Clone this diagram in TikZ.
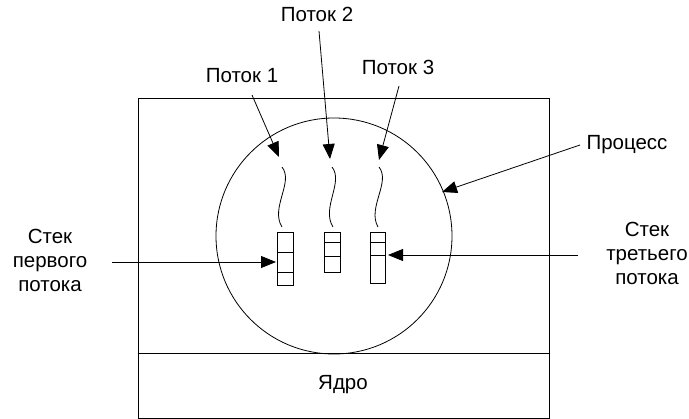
\documentclass[tikz,border=0pt]{standalone}
\usepackage{fontspec}
\setmainfont{Liberation Sans}
\usetikzlibrary{arrows.meta}
\begin{document}
\begin{tikzpicture}[x=1pt,y=-1pt,
  lbl/.style={font=\fontsize{20.5}{24}\selectfont, align=center, inner sep=1pt},
  arr/.style={line width=0.8pt, -{Triangle[length=15pt,width=12pt]}},
  thr/.style={line width=0.8pt},
  stk/.style={draw, line width=1pt},
  box/.style={draw, line width=0.8pt}]
\useasboundingbox (0,0) rectangle (689,419);
% outer process box
\draw[box] (138,98) rectangle (549,418.5);
\draw[box] (138,353) -- (549,353);
\node[lbl] (kernel) at (343,385) {Ядро};
% process circle
\node[draw, circle, line width=0.8pt, minimum size=236pt, inner sep=0pt] (proc) at (334,236) {};
% stacks
\draw[stk] (277,233) rectangle (293,286);
\draw[stk] (277,253) -- (293,253) (277,273) -- (293,273);
\draw[stk] (324,233) rectangle (340.5,272.5);
\draw[stk] (324,242.5) -- (340.5,242.5) (324,257) -- (340.5,257);
\draw[stk] (370,233) rectangle (385.5,283.5);
\draw[stk] (370,242.5) -- (385.5,242.5) (370,256) -- (385.5,256);
\coordinate (s1) at (276,262);
\coordinate (s3) at (388,255);
% threads
\coordinate (t1) at (279,157);
\coordinate (t2) at (330,159);
\coordinate (t3) at (379,160);
\draw[thr] (282,167) .. controls (294,182) and (270,208) .. (282,227);
\draw[thr] (332,167) .. controls (344,182) and (321,208) .. (333,227);
\draw[thr] (379,167) .. controls (391,182) and (367,208) .. (378,227);
% labels
\node[lbl] (p1) at (242,76) {Поток 1};
\node[lbl] (p2) at (317,14) {Поток 2};
\node[lbl] (p3) at (398,67) {Поток 3};
\node[lbl] (pr) at (627,145) {Процесс};
\node[lbl] (st1) at (50,260) {Стек\\первого\\потока};
\node[lbl] (st3) at (647,253) {Стек\\третьего\\потока};
\coordinate (prc) at (442,192);
% arrow tails
\coordinate (a1) at (252,95);
\coordinate (a2) at (319,31);
\coordinate (a3) at (399,86);
\coordinate (a4) at (580,145);
\coordinate (a5) at (112,262);
\coordinate (a6) at (578,255);
% arrows
\draw[arr] (a1) -- (t1);
\draw[arr] (a2) -- (t2);
\draw[arr] (a3) -- (t3);
\draw[arr] (a4) -- (prc);
\draw[arr] (a5) -- (s1);
\draw[arr] (a6) -- (s3);
\end{tikzpicture}
\end{document}
